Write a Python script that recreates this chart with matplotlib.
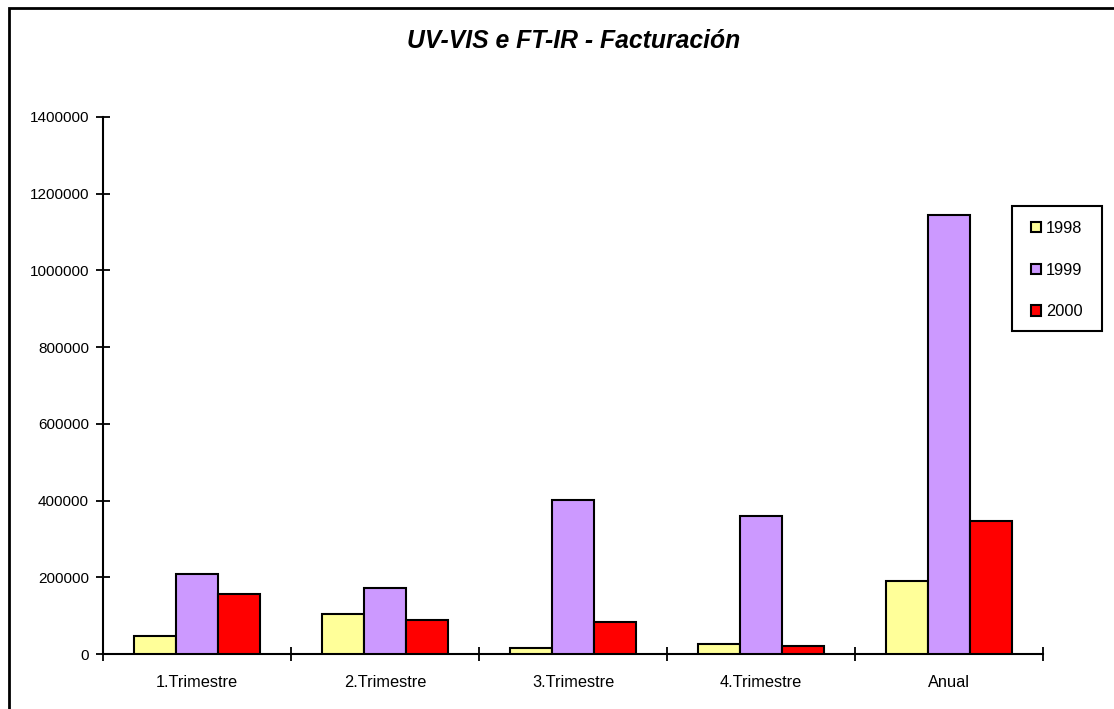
import matplotlib
matplotlib.use("Agg")
import matplotlib.pyplot as plt
import numpy as np
from matplotlib.patches import Rectangle

plt.rcParams['font.family'] = ['Liberation Sans', 'DejaVu Sans']

categories = ["1.Trimestre", "2.Trimestre", "3.Trimestre", "4.Trimestre", "Anual"]
series_names = ["1998", "1999", "2000"]
v1998 = [46000, 103000, 15600, 26000, 191600]
v1999 = [208800, 171600, 400400, 359600, 1144000]
v2000 = [156000, 88400, 82200, 20800, 347600]
colors = ["#FFFF99", "#CC99FF", "#FF0000"]
yticks = [0, 200000, 400000, 600000, 800000, 1000000, 1200000, 1400000]

W, H = 1114, 709
fig = plt.figure(figsize=(W / 100, H / 100), dpi=100)
ax = fig.add_axes([103 / W, 55 / H, 940 / W, 537 / H])

x = np.arange(len(categories))
w = 0.223
handles = []
for i, (vals, c) in enumerate(zip([v1998, v1999, v2000], colors)):
    b = ax.bar(x + (i - 1) * w, vals, width=w, color=c, edgecolor="black",
               linewidth=1.5, label=series_names[i], zorder=3)
    handles.append(b)

ax.set_xlim(-0.5, len(categories) - 0.5)
ax.set_ylim(0, 1400000)
ax.set_yticks(yticks)
ax.set_yticklabels([str(t) for t in yticks], fontsize=11)
ax.set_xticks(np.arange(len(categories) + 1) - 0.5)
ax.set_xticklabels([])
ax.set_xticks(x, minor=True)
ax.set_xticklabels(categories, minor=True, fontsize=11.8)
ax.tick_params(axis='x', which='minor', length=0, pad=15)
ax.tick_params(axis='both', which='major', direction='inout', length=10, width=1.3)
ax.tick_params(axis='y', pad=5)
for s in ["top", "right"]:
    ax.spines[s].set_visible(False)
for s in ["left", "bottom"]:
    ax.spines[s].set_linewidth(1.5)

fig.text(574 / W, 1 - 41 / H, "UV-VIS e FT-IR - Facturación", ha="center", va="center",
         fontsize=17.8, fontweight="bold", fontstyle="italic")

# legend box
fig.patches.append(Rectangle((1012 / W, 1 - 331 / H), 90 / W, 125 / H,
                             transform=fig.transFigure, fill=True, facecolor="white",
                             edgecolor="black", linewidth=1.5, zorder=5))
leg = fig.legend(handles=handles, labels=series_names,
                 loc="upper left", bbox_to_anchor=(1031 / W, 1 - 221 / H),
                 frameon=False, fontsize=11.8, handlelength=0.6, handleheight=0.6,
                 handletextpad=0.3, labelspacing=1.62, borderpad=0,
                 borderaxespad=0)
leg.set_zorder(6)

# outer chart frame
fig.patches.append(Rectangle((9 / W, -0.1), 1.2, 1 - 8 / H + 0.1, transform=fig.transFigure,
                             fill=False, edgecolor="black", linewidth=2))

fig.savefig("out.png", dpi=100)
